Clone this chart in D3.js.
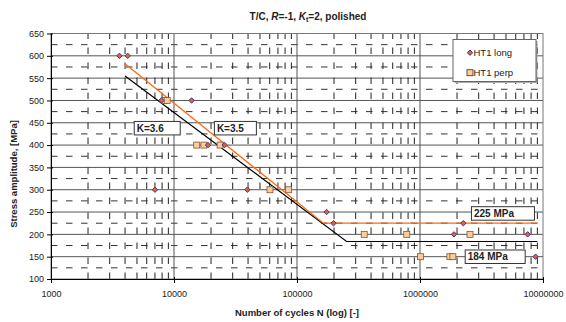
<!DOCTYPE html>
<html>
<head>
<meta charset="utf-8">
<script src="https://cdn.jsdelivr.net/npm/d3@7/dist/d3.min.js"></script>
<style>
  body { margin: 0; background: #fff; }
  text { font-family: Arial, "Liberation Sans", sans-serif; }
</style>
</head>
<body>
<script>
// HT1 long (diamonds)
const longN = [3600, 4200, 7900, 13900, 7000, 18900, 25800, 39500, 174000, 198000, 1890000, 2250000, 7500000, 8700000];
const longS = [600, 600, 500, 500, 300, 400, 400, 300, 250, 225, 200, 225, 200, 150];
// HT1 perp (squares)
const perpN = [8400, 8800, 15300, 17500, 23700, 60300, 85500, 352000, 780000, 1010000, 1750000, 1850000, 2550000];
const perpS = [500, 500, 400, 400, 400, 300, 300, 200, 200, 150, 150, 150, 200];
// fitted curves
const fitBlackN = [4000, 253000, 9000000];
const fitBlackS = [555, 184, 184];
const fitOrangeN = [4000, 164000, 9000000];
const fitOrangeS = [582, 225, 225];
// axis ticks
const xTicks = [1000, 10000, 100000, 1000000, 10000000];
const yTicks = [100, 150, 200, 250, 300, 350, 400, 450, 500, 550, 600, 650];
// annotation boxes (top-left anchor in data units)
const notes = [
  {text: "K=3.6", n: 4750, s: 453, w: 46},
  {text: "K=3.5", n: 21300, s: 453, w: 42},
  {text: "225 MPa", n: 2620000, s: 262, w: 63},
  {text: "184 MPa", n: 2330000, s: 165, w: 60}
];

const W = 566, H = 322;
const m = {left: 51, right: 23, top: 33.5, bottom: 43};
const x = d3.scaleLog().domain([1000, 10000000]).range([m.left, W - m.right]);
const y = d3.scaleLinear().domain([100, 650]).range([H - m.bottom, m.top]);

const svg = d3.select("body").append("svg")
  .attr("width", W).attr("height", H);

// horizontal grid
const minorY = d3.range(125, 650, 50);
svg.append("g").selectAll("line").data(minorY).enter().append("line")
  .attr("x1", m.left).attr("x2", W - m.right)
  .attr("y1", d => y(d)).attr("y2", d => y(d))
  .attr("stroke", "#333").attr("stroke-dasharray", "6.5,8.5");
svg.append("g").selectAll("line").data(yTicks.slice(1, -1)).enter().append("line")
  .attr("x1", m.left).attr("x2", W - m.right)
  .attr("y1", d => y(d)).attr("y2", d => y(d))
  .attr("stroke", "#555");

// vertical grid
const minorX = [];
[1000, 10000, 100000, 1000000].forEach(dec => {
  for (let k = 2; k <= 9; k++) minorX.push(dec * k);
});
svg.append("g").selectAll("line").data(minorX).enter().append("line")
  .attr("x1", d => x(d)).attr("x2", d => x(d))
  .attr("y1", y(100)).attr("y2", y(650))
  .attr("stroke", "#222").attr("stroke-dasharray", "6.5,8.5");
svg.append("g").selectAll("line").data(xTicks.slice(1, -1)).enter().append("line")
  .attr("x1", d => x(d)).attr("x2", d => x(d))
  .attr("y1", y(100)).attr("y2", y(650))
  .attr("stroke", "#555");

// plot frame
svg.append("rect")
  .attr("x", m.left).attr("y", m.top)
  .attr("width", W - m.right - m.left).attr("height", H - m.bottom - m.top)
  .attr("fill", "none").attr("stroke", "#777");

// axes
const xAxis = d3.axisBottom(x).tickValues(xTicks).tickFormat(d3.format("d"))
  .tickSize(4).tickSizeOuter(0).tickPadding(8);
svg.append("g").attr("transform", `translate(0,${H - m.bottom})`).call(xAxis)
  .call(g => g.select(".domain").attr("stroke", "#000"))
  .call(g => g.selectAll(".tick line").attr("y1", -2).attr("stroke", "#000"))
  .call(g => g.selectAll("text").attr("font-size", 9).attr("fill", "#222")
    .attr("font-family", "Arial, 'Liberation Sans', sans-serif"));

const yAxis = d3.axisLeft(y).tickValues(yTicks).tickSize(4).tickSizeOuter(0).tickPadding(3);
svg.append("g").attr("transform", `translate(${m.left},0)`).call(yAxis)
  .call(g => g.select(".domain").attr("stroke", "#000"))
  .call(g => g.selectAll(".tick line").attr("x2", -4).attr("x1", 2).attr("stroke", "#000"))
  .call(g => g.selectAll("text").attr("font-size", 9).attr("fill", "#222")
    .attr("font-family", "Arial, 'Liberation Sans', sans-serif"));

// fit lines
const line = d3.line().x(d => x(d[0])).y(d => y(d[1]));
svg.append("path").datum(d3.zip(fitBlackN, fitBlackS))
  .attr("d", line).attr("fill", "none").attr("stroke", "#000").attr("stroke-width", 1.2);
svg.append("path").datum(d3.zip(fitOrangeN, fitOrangeS))
  .attr("d", line).attr("fill", "none").attr("stroke", "#ff6a13").attr("stroke-width", 1.3);

// markers
const diamond = "M0,-2.7L2.7,0L0,2.7L-2.7,0Z";
svg.append("g").selectAll("rect").data(d3.zip(perpN, perpS)).enter().append("rect")
  .attr("x", d => x(d[0]) - 3).attr("y", d => y(d[1]) - 3)
  .attr("width", 6).attr("height", 6)
  .attr("fill", "#ffcc99").attr("stroke", "#7a5a3a").attr("stroke-width", 0.8);
svg.append("g").selectAll("path").data(d3.zip(longN, longS)).enter().append("path")
  .attr("d", diamond)
  .attr("transform", d => `translate(${x(d[0])},${y(d[1])})`)
  .attr("fill", "#e8602c").attr("stroke", "#3b3b9a").attr("stroke-width", 1);

// annotation boxes
const nb = svg.append("g").selectAll("g").data(notes).enter().append("g")
  .attr("transform", d => `translate(${x(d.n)},${y(d.s)})`);
nb.append("rect").attr("width", d => d.w).attr("height", 13.5)
  .attr("fill", "#fff").attr("stroke", "#333");
nb.append("text").attr("x", 2.5).attr("y", 10.5)
  .attr("font-size", 10).attr("font-weight", "bold").attr("fill", "#222")
  .text(d => d.text);

// legend
const lg = svg.append("g").attr("transform", "translate(453,39.5)");
lg.append("rect").attr("x", 1.5).attr("y", 1.5).attr("width", 83).attr("height", 42).attr("fill", "#aaa");
lg.append("rect").attr("width", 83).attr("height", 42).attr("fill", "#fff").attr("stroke", "#666");
lg.append("path").attr("d", diamond).attr("transform", "translate(17,13.2)")
  .attr("fill", "#e8602c").attr("stroke", "#3b3b9a").attr("stroke-width", 1);
lg.append("text").attr("x", 20.5).attr("y", 16.5).attr("font-size", 9.5).attr("fill", "#222").text("HT1 long");
lg.append("rect").attr("x", 14).attr("y", 30.2).attr("width", 6).attr("height", 6)
  .attr("fill", "#ffcc99").attr("stroke", "#333").attr("stroke-width", 0.8);
lg.append("text").attr("x", 20.5).attr("y", 36.5).attr("font-size", 9.5).attr("fill", "#222").text("HT1 perp");

// title
const t = svg.append("text").attr("x", 308).attr("y", 19.5).attr("text-anchor", "middle")
  .attr("font-size", 10).attr("font-weight", "bold").attr("fill", "#222");
t.append("tspan").text("T/C, ");
t.append("tspan").attr("font-style", "italic").text("R");
t.append("tspan").text("=-1, ");
t.append("tspan").attr("font-style", "italic").text("K");
t.append("tspan").attr("font-size", 7).attr("dy", 2).text("t");
t.append("tspan").attr("dy", -2).text("=2, polished");

// axis titles
svg.append("text").attr("x", 297).attr("y", 316).attr("text-anchor", "middle")
  .attr("font-size", 9.5).attr("font-weight", "bold").attr("fill", "#222")
  .text("Number of cycles N (log) [-]");
svg.append("text").attr("transform", "translate(16.5,174) rotate(-90)").attr("text-anchor", "middle")
  .attr("font-size", 9.5).attr("font-weight", "bold").attr("fill", "#222")
  .text("Stress amplitude, [MPa]");
</script>
</body>
</html>
